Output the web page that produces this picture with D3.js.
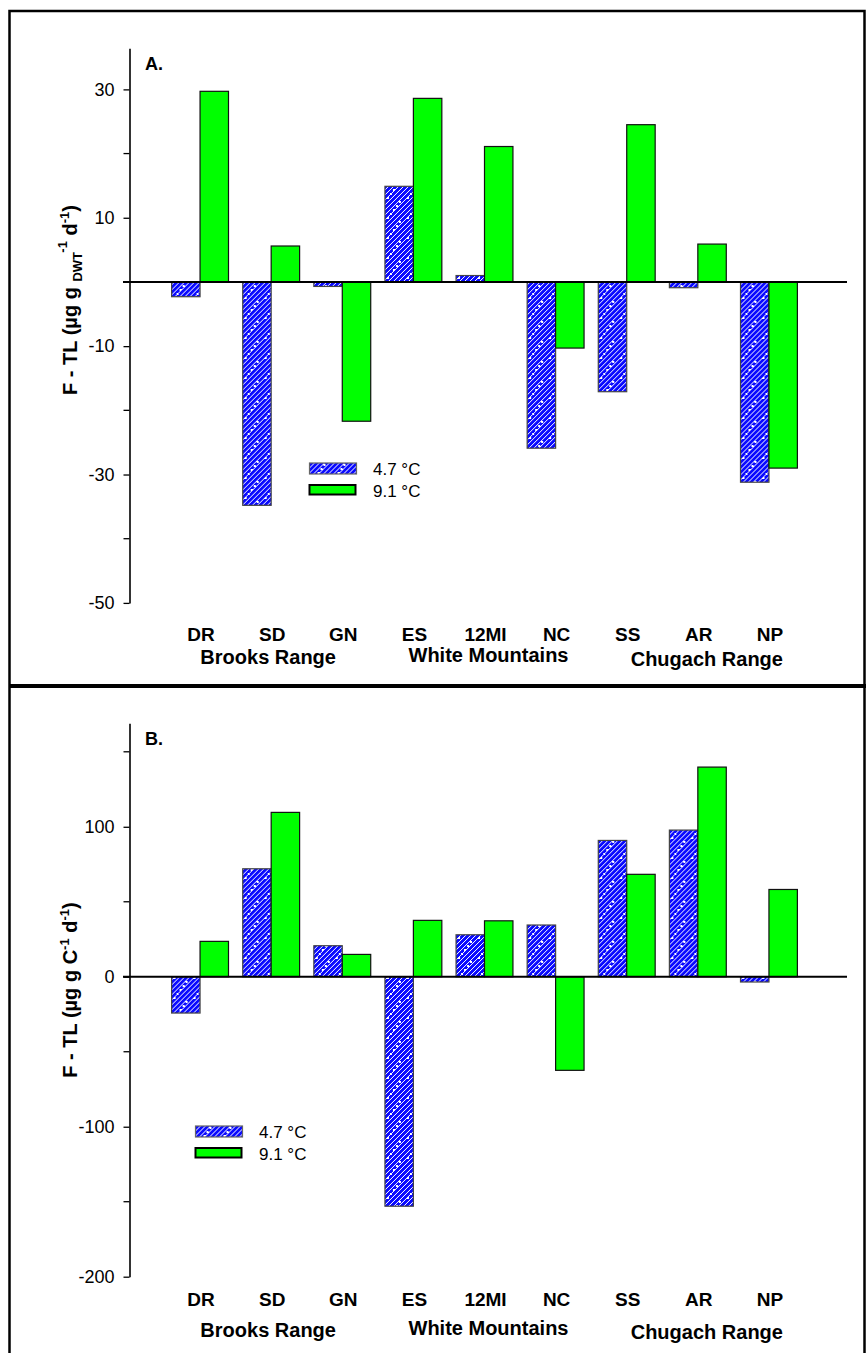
<!DOCTYPE html>
<html>
<head>
<meta charset="utf-8">
<script src="https://cdn.jsdelivr.net/npm/d3@7"></script>
<style>
  body { margin: 0; background: #fff; }
  svg { display: block; font-family: "Liberation Sans", Arial, sans-serif; }
</style>
</head>
<body>
<svg id="canvas"></svg>
<script>
// ########## Data ##########

categories = ["DR", "SD", "GN", "ES", "12MI", "NC", "SS", "AR", "NP"];
regions = ["Brooks Range", "White Mountains", "Chugach Range"];
regionSites = [["DR", "SD", "GN"], ["ES", "12MI", "NC"], ["SS", "AR", "NP"]];
seriesNames = ["4.7 °C", "9.1 °C"];

// panel A, per dry weight
dwtCold = [-2.3, -34.8, -0.7, 14.9, 1.0, -25.9, -17.1, -0.9, -31.2];
dwtWarm = [29.7, 5.6, -21.7, 28.6, 21.1, -10.3, 24.5, 5.9, -29.0];

// panel B, per carbon
carbonCold = [-24.2, 72, 20.7, -153, 28, 34.5, 90.9, 97.8, -3.5];
carbonWarm = [23.6, 109.6, 14.9, 37.6, 37.3, -62.4, 68.3, 139.8, 58.2];

ticksA = [30, 10, -10, -30, -50];
minorTicksA = [20, 0, -20, -40];
ticksB = [100, 0, -100, -200];
minorTicksB = [150, 50, -50, -150];

w = 866;
h = 1353;

svg = d3.select("#canvas")
    .attr("width", w)
    .attr("height", h);

// ########## Patterns ##########
defs = svg.append("defs");

hatch = defs.append("pattern")
    .attr("id", "hatch")
    .attr("patternUnits", "userSpaceOnUse")
    .attr("width", 5)
    .attr("height", 5);
hatch.append("rect").attr("width", 5).attr("height", 5).attr("fill", "#0a0aff");
hatch.append("path")
    .attr("d", "M-1,1 L1,-1 M0,5 L5,0 M4,6 L6,4")
    .attr("stroke", "#fff")
    .attr("stroke-width", 1);

dots = defs.append("pattern")
    .attr("id", "hatchDots")
    .attr("patternUnits", "userSpaceOnUse")
    .attr("width", 20)
    .attr("height", 20);
dots.append("rect").attr("width", 20).attr("height", 20).attr("fill", "url(#hatch)");
[[2, 17], [5, 13], [8, 9], [11, 5], [14, 1]].forEach(function (p) {
    dots.append("rect").attr("x", p[0]).attr("y", p[1]).attr("width", 2).attr("height", 2).attr("fill", "#fff");
});

// ########## Frames ##########
svg.append("rect")
    .attr("x", 9.5).attr("y", 11)
    .attr("width", 855).attr("height", 1360)
    .attr("fill", "none")
    .attr("stroke", "#000")
    .attr("stroke-width", 2.5);

svg.append("line")
    .attr("x1", 9).attr("x2", w)
    .attr("y1", 686).attr("y2", 686)
    .attr("stroke", "#000")
    .attr("stroke-width", 4);

// ########## Shared x scales ##########
x = d3.scaleBand()
    .domain(categories)
    .range([164.5, 804.5])
    .paddingInner(0.2)
    .paddingOuter(0.1);

xSub = d3.scaleBand()
    .domain([0, 1])
    .range([0, x.bandwidth()]);

function drawPanel(p) {
    var g = svg.append("g");

    var y = d3.scaleLinear()
        .domain(p.domain)
        .range(p.range);

    // y axis with labelled ticks (plain hyphen minus like the original)
    var axis = g.append("g")
        .attr("transform", "translate(129.5,0)")
        .call(d3.axisLeft(y)
            .tickValues(p.ticks)
            .tickFormat(function (d) { return String(d); })
            .tickSize(6).tickPadding(9).tickSizeOuter(0));
    axis.select(".domain").attr("stroke-width", 1.6);
    axis.selectAll(".tick line").attr("stroke-width", 1.3);
    axis.selectAll("text")
        .attr("font-size", 18)
        .attr("font-family", "Liberation Sans, Arial, sans-serif")
        .attr("fill", "#000");

    // minor ticks
    g.selectAll(".minor")
        .data(p.minor)
        .enter().append("line")
        .attr("x1", 123.5).attr("x2", 129.5)
        .attr("y1", function (d) { return y(d); })
        .attr("y2", function (d) { return y(d); })
        .attr("stroke", "#000")
        .attr("stroke-width", 1.3);

    // bars
    var rows = categories.map(function (c, i) {
        return { site: c, vals: [p.cold[i], p.warm[i]] };
    });

    var grp = g.selectAll(".site")
        .data(rows)
        .enter().append("g")
        .attr("transform", function (d) { return "translate(" + x(d.site) + ",0)"; });

    grp.selectAll("rect")
        .data(function (d) { return d.vals.map(function (v, k) { return { k: k, v: v }; }); })
        .enter().append("rect")
        .attr("x", function (d) { return xSub(d.k); })
        .attr("width", xSub.bandwidth())
        .attr("y", function (d) { return y(Math.max(0, d.v)); })
        .attr("height", function (d) { return Math.abs(y(d.v) - y(0)); })
        .attr("fill", function (d) { return d.k == 0 ? "url(#hatchDots)" : "#00ff00"; })
        .attr("stroke", function (d) { return d.k == 0 ? "#444" : "#111"; })
        .attr("stroke-width", 1.2);

    // zero line
    g.append("line")
        .attr("x1", 123).attr("x2", 847)
        .attr("y1", y(0)).attr("y2", y(0))
        .attr("stroke", "#000")
        .attr("stroke-width", 2);

    // panel letter
    g.append("text")
        .attr("x", 145).attr("y", y.range()[1] + 22)
        .attr("font-size", 18)
        .attr("font-weight", "bold")
        .text(p.letter);

    // site labels
    g.selectAll(".cat")
        .data(categories)
        .enter().append("text")
        .attr("x", function (d) { return x(d) + x.bandwidth() / 2 + 1; })
        .attr("y", p.catY)
        .attr("text-anchor", "middle")
        .attr("font-size", 19)
        .attr("font-weight", "bold")
        .text(function (d) { return d; });

    // region labels
    var shift = [-3, 4, 9];
    var lift = [0, -2, 2];
    g.selectAll(".region")
        .data(regions)
        .enter().append("text")
        .attr("x", function (d, i) {
            var s = regionSites[i];
            return (x(s[0]) + x(s[s.length - 1]) + x.bandwidth()) / 2 + shift[i];
        })
        .attr("y", function (d, i) { return p.regionY + lift[i]; })
        .attr("text-anchor", "middle")
        .attr("font-size", 20)
        .attr("font-weight", "bold")
        .text(function (d) { return d; });

    // y axis title
    var t = g.append("text")
        .attr("transform", "translate(77," + p.titleY + ") rotate(-90)")
        .attr("text-anchor", "middle")
        .attr("font-size", 20)
        .attr("font-weight", "bold");
    p.title(t);

    // legend
    var lg = g.append("g").attr("transform", "translate(" + p.legend[0] + "," + p.legend[1] + ")");
    lg.append("rect")
        .attr("x", 0).attr("y", 0).attr("width", 47).attr("height", 11)
        .attr("fill", "url(#hatchDots)")
        .attr("stroke", "#666").attr("stroke-width", 1.2);
    lg.append("rect")
        .attr("x", 0).attr("y", 22).attr("width", 46).attr("height", 9.5)
        .attr("fill", "#00ff00")
        .attr("stroke", "#000").attr("stroke-width", 2);
    lg.selectAll(".lt")
        .data(seriesNames)
        .enter().append("text")
        .attr("x", 63.5)
        .attr("y", function (d, i) { return 11.5 + i * 22; })
        .attr("font-size", 17)
        .text(function (d) { return d; });
}

function titleA(t) {
    t.append("tspan").text("F - TL (µg g ");
    t.append("tspan").attr("font-size", 13).attr("dy", 5).text("DWT");
    t.append("tspan").attr("font-size", 13).attr("dy", -15).text("-1");
    t.append("tspan").attr("dy", 10).text(" d");
    t.append("tspan").attr("font-size", 13).attr("dy", -8).text("-1");
    t.append("tspan").attr("dy", 8).text(")");
}

function titleB(t) {
    t.append("tspan").text("F - TL (µg g C");
    t.append("tspan").attr("font-size", 13).attr("dy", -8).text("-1");
    t.append("tspan").attr("dy", 8).text(" d");
    t.append("tspan").attr("font-size", 13).attr("dy", -8).text("-1");
    t.append("tspan").attr("dy", 8).text(")");
}

drawPanel({
    letter: "A.",
    domain: [-50, 36.4], range: [602.9, 48.3],
    ticks: ticksA, minor: minorTicksA,
    cold: dwtCold, warm: dwtWarm,
    catY: 641, regionY: 664,
    titleY: 300, title: titleA,
    legend: [309.5, 463]
});

drawPanel({
    letter: "B.",
    domain: [-200, 169], range: [1276.7, 723.3],
    ticks: ticksB, minor: minorTicksB,
    cold: carbonCold, warm: carbonWarm,
    catY: 1306, regionY: 1337,
    titleY: 990, title: titleB,
    legend: [195.5, 1126]
});
</script>
</body>
</html>
